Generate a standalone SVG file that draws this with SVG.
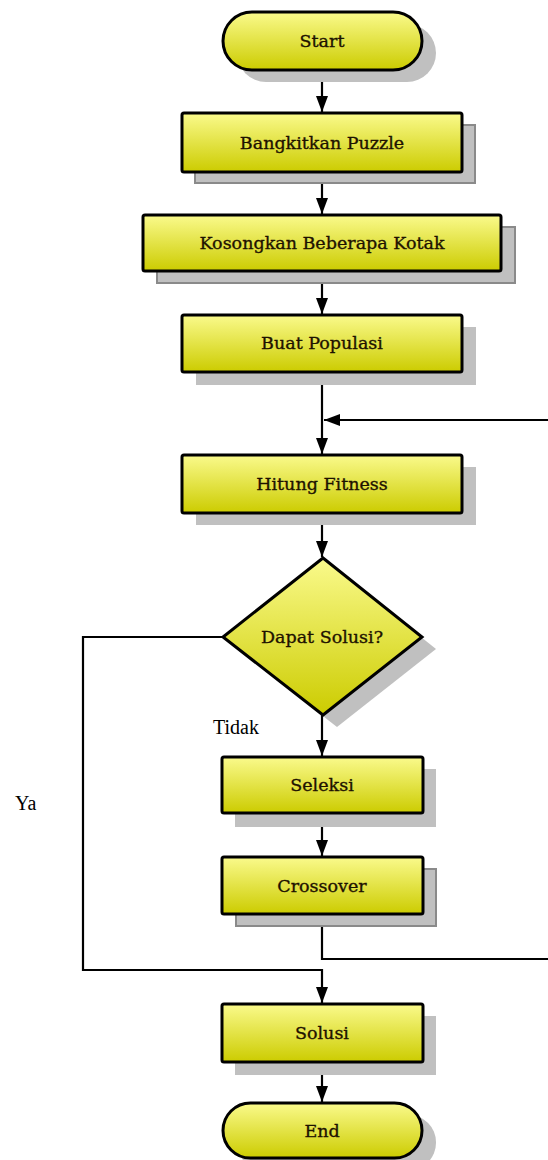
<svg xmlns="http://www.w3.org/2000/svg" width="548" height="1160" viewBox="0 0 548 1160">
<style>
.shape{fill:url(#yg);stroke:#000;stroke-width:3}
.sh{fill:#c0c0c0}
.shb{fill:#c0c0c0;stroke:#8a8a8a;stroke-width:2}
.lbl{font-family:"DejaVu Serif",serif;font-size:17.5px;fill:#1e1200;stroke:#1e1200;stroke-width:0.35;text-anchor:middle}
.plain{font-family:"Liberation Serif",serif;font-size:20px;fill:#000}
.conn{fill:none;stroke:#000;stroke-width:2.2}
</style>
<defs>
<linearGradient id="yg" x1="0" y1="0" x2="0" y2="1">
<stop offset="0" stop-color="#fafa8c"/>
<stop offset="1" stop-color="#cccc00"/>
</linearGradient>
<marker id="ah" markerUnits="userSpaceOnUse" markerWidth="16" markerHeight="12" refX="16" refY="6" orient="auto" viewBox="0 0 16 12">
<path d="M0,0 L16,6 L0,12 z" fill="#000"/>
</marker>
</defs>
<g id="connectors">
<line class="conn" x1="322" y1="70" x2="322" y2="112" marker-end="url(#ah)"/>
<line class="conn" x1="322" y1="172" x2="322" y2="214" marker-end="url(#ah)"/>
<line class="conn" x1="322" y1="271" x2="322" y2="314" marker-end="url(#ah)"/>
<line class="conn" x1="322" y1="372" x2="322" y2="454" marker-end="url(#ah)"/>
<path class="conn" d="M322,914 V959 H551 V420 H324" marker-end="url(#ah)"/>
<line class="conn" x1="322" y1="513" x2="322" y2="557" marker-end="url(#ah)"/>
<line class="conn" x1="322" y1="715" x2="322" y2="756" marker-end="url(#ah)"/>
<line class="conn" x1="322" y1="813" x2="322" y2="856" marker-end="url(#ah)"/>
<path class="conn" d="M223,637 H83 V970 H322 V1003" marker-end="url(#ah)"/>
<line class="conn" x1="322" y1="1062" x2="322" y2="1102" marker-end="url(#ah)"/>
</g>
<g id="start">
<rect class="sh" x="237" y="24" width="199" height="58" rx="29"/>
<rect class="shape" x="223" y="12" width="199" height="58" rx="29"/>
<text class="lbl" x="322" y="47">Start</text>
</g>
<g id="bangkitkan">
<rect class="shb" x="195" y="125" width="280" height="58"/>
<rect class="shape" x="182" y="113" width="280" height="59" rx="2"/>
<text class="lbl" x="322" y="149">Bangkitkan Puzzle</text>
</g>
<g id="kosongkan">
<rect class="shb" x="157" y="227" width="358" height="56"/>
<rect class="shape" x="143" y="215" width="358" height="56" rx="2"/>
<text class="lbl" x="322" y="249">Kosongkan Beberapa Kotak</text>
</g>
<g id="buat">
<rect class="sh" x="196" y="327" width="280" height="58"/>
<rect class="shape" x="182" y="315" width="280" height="57" rx="2"/>
<text class="lbl" x="322" y="349">Buat Populasi</text>
</g>
<g id="hitung">
<rect class="sh" x="196" y="467" width="280" height="58"/>
<rect class="shape" x="182" y="455" width="280" height="58" rx="2"/>
<text class="lbl" x="322" y="490">Hitung Fitness</text>
</g>
<g id="dapat">
<polygon class="sh" points="337,570 436,649 337,727 237,649"/>
<polygon class="shape" points="323,558 422,637 323,715 223,637" stroke-linejoin="miter"/>
<text class="lbl" x="322" y="643">Dapat Solusi?</text>
</g>
<g id="seleksi">
<rect class="sh" x="235" y="769" width="201" height="58"/>
<rect class="shape" x="222" y="757" width="201" height="56" rx="2"/>
<text class="lbl" x="322" y="791">Seleksi</text>
</g>
<g id="crossover">
<rect class="shb" x="236" y="869" width="200" height="57"/>
<rect class="shape" x="222" y="857" width="201" height="57" rx="2"/>
<text class="lbl" x="322" y="892">Crossover</text>
</g>
<g id="solusi">
<rect class="sh" x="235" y="1016" width="201" height="59"/>
<rect class="shape" x="222" y="1004" width="201" height="58" rx="2"/>
<text class="lbl" x="322" y="1039">Solusi</text>
</g>
<g id="end">
<rect class="sh" x="237" y="1115" width="199" height="55" rx="27"/>
<rect class="shape" x="223" y="1103" width="199" height="55" rx="27.5"/>
<text class="lbl" x="322" y="1137">End</text>
</g>
<g id="labels">
<text class="plain" x="213" y="734">Tidak</text>
<text class="plain" x="15" y="810">Ya</text>
</g>
</svg>
